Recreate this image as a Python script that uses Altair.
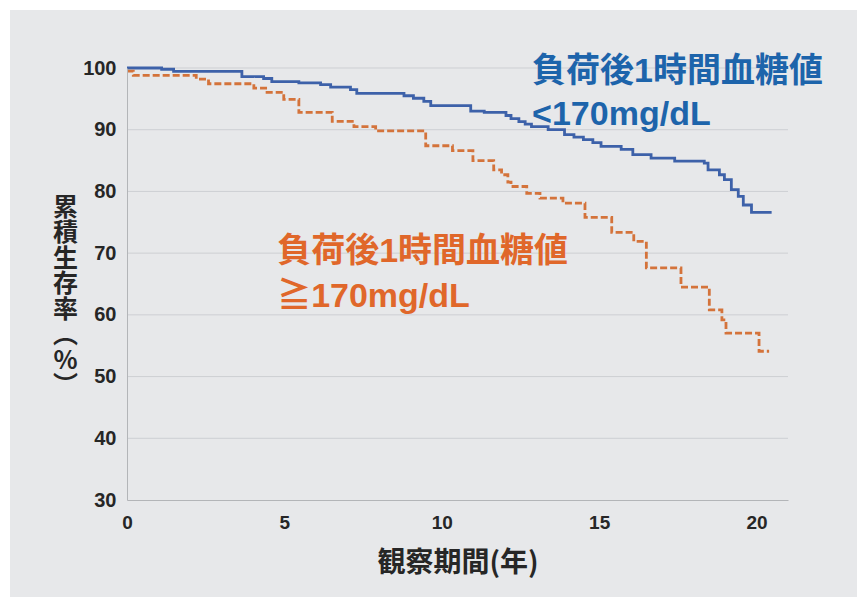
import altair as alt
import pandas as pd

# ---- data ----
blue_t = [0, 1.1, 1.48, 3.65, 4.34, 4.6, 5.46, 6.15, 6.47, 7.1,
          7.3, 8.8, 9.1, 9.43, 9.65, 10.92, 11.35, 12.04, 12.2, 12.45,
          12.65, 12.85, 13.38, 13.9, 14.2, 14.5, 14.8, 15.06, 15.7, 16.07,
          16.65, 17.4, 18.34, 18.46, 18.82, 18.98, 19.2, 19.42, 19.58, 19.84,
          20.48]
blue_v = [100, 99.8, 99.45, 98.6, 98.3, 97.8, 97.6, 97.3, 96.9, 96.5,
          95.9, 95.5, 95.1, 94.6, 93.9, 93.0, 92.8, 92.3, 91.8, 91.3,
          90.9, 90.5, 90.0, 89.2, 88.8, 88.4, 87.9, 87.3, 86.8, 85.95,
          85.4, 84.9, 84.6, 83.5, 82.7, 81.9, 80.3, 79.2, 77.8, 76.6,
          76.6]
orange_t = [0, 0.2, 2.2, 2.59, 4.03, 4.45, 4.98, 5.46, 6.52, 7.21,
            7.9, 9.49, 10.34, 10.99, 11.65, 11.9, 12.1, 12.2, 12.7, 13.12,
            13.85, 14.55, 15.4, 16.1, 16.5, 17.6, 18.5, 18.9, 19.03, 20.08,
            20.4]
orange_v = [99.5, 98.8, 98.2, 97.45, 96.75, 96.05, 94.9, 92.8, 91.35, 90.5,
            89.8, 87.4, 86.6, 85.0, 83.5, 82.7, 81.5, 80.8, 79.7, 78.9,
            78.1, 75.8, 73.35, 71.9, 67.6, 64.5, 60.8, 59.2, 57.05, 54.1,
            54.1]
groups = ["<170", ">=170"]
y_ticks = [30, 40, 50, 60, 70, 80, 90, 100]
x_ticks = [0, 5, 10, 15, 20]
blue_label = ["負荷後1時間血糖値", "<170mg/dL"]
orange_label = ["負荷後1時間血糖値", "≧170mg/dL"]
y_title = ["累", "積", "生", "存", "率", "︵", "%", "︶"]
x_title = "観察期間(年)"

# ---- layout / style ----
W, H = 661, 432
PL, PT = 127, 68
CJK = "Noto Sans CJK JP"
LAT = "Liberation Sans, Noto Sans CJK JP"
BLUE_LINE, ORANGE_LINE = "#3d61a9", "#d4733b"
BLUE_TXT, ORANGE_TXT = "#1d64ab", "#e0672a"
AXIS_TXT = "#262626"

df = pd.concat([
    pd.DataFrame({"t": blue_t, "v": blue_v, "g": groups[0]}),
    pd.DataFrame({"t": orange_t, "v": orange_v, "g": groups[1]}),
])

xscale = alt.Scale(domain=[0, 21], nice=False, zero=False)
yscale = alt.Scale(domain=[30, 100], nice=False, zero=False)

x_axis = alt.Axis(
    values=x_ticks, grid=False, ticks=False, domainColor="#b3b5b8", domainWidth=1,
    labelFont=LAT, labelFontSize=19, labelFontWeight="bold", labelColor=AXIS_TXT,
    labelPadding=13, labelFlush=False,
    title=x_title, titleFont=CJK, titleFontSize=28, titleFontWeight="bold",
    titleColor=AXIS_TXT, titleY=63, titleBaseline="middle", zindex=1,
)
y_axis = alt.Axis(
    values=y_ticks, grid=False, ticks=False, domainColor="#b3b5b8", domainWidth=1,
    labelFont=LAT, labelFontSize=20, labelFontWeight="bold", labelColor=AXIS_TXT,
    labelPadding=11,
    title=y_title, titleFont=CJK, titleFontSize=25, titleFontWeight="bold",
    titleColor=AXIS_TXT, titleAngle=0, titleX=-62, titleY=127,
    titleBaseline="top", titleAlign="center", titleLineHeight=25.5, zindex=1,
)

bg = alt.Chart(pd.DataFrame({"a": [0]})).mark_rect(color="#e7e8ea").encode(
    x=alt.value(10 - PL), x2=alt.value(857 - PL),
    y=alt.value(10 - PT), y2=alt.value(597 - PT),
)

grid = alt.Chart(pd.DataFrame({"v": y_ticks[1:]})).mark_rule(
    color="#cdcfd3", strokeWidth=1
).encode(y=alt.Y("v:Q", scale=yscale, axis=y_axis))

lines = alt.Chart(df).mark_line(interpolate="step-after", strokeWidth=2.8).encode(
    x=alt.X("t:Q", scale=xscale, axis=x_axis),
    y=alt.Y("v:Q", scale=yscale, axis=y_axis),
    color=alt.Color("g:N", scale=alt.Scale(domain=groups, range=[BLUE_LINE, ORANGE_LINE]), legend=None),
    strokeDash=alt.StrokeDash("g:N", scale=alt.Scale(domain=groups, range=[[1, 0], [7, 3]]), legend=None),
)

ann = pd.DataFrame({
    "text": blue_label + orange_label,
    "x": [12.87, 12.87, 4.77, 4.77],
    "y": [99.4, 92.43, 70.23, 62.94],
    "c": [BLUE_TXT, BLUE_TXT, ORANGE_TXT, ORANGE_TXT],
})
texts = alt.Chart(ann).mark_text(
    align="left", baseline="middle", fontSize=34, fontWeight="bold", font=LAT
).encode(
    x=alt.X("x:Q", scale=xscale, axis=x_axis),
    y=alt.Y("y:Q", scale=yscale, axis=y_axis),
    text="text:N",
    color=alt.Color("c:N", scale=None),
)

chart = alt.layer(bg, grid, lines, texts).properties(
    width=W, height=H,
    padding={"left": PL, "top": PT, "right": 866 - PL - W, "bottom": 605 - PT - H},
    autosize=alt.AutoSizeParams(type="none"),
    background="white",
).configure_view(strokeWidth=0)

chart.save("out.html", embed_options={"renderer": "svg", "actions": False})
